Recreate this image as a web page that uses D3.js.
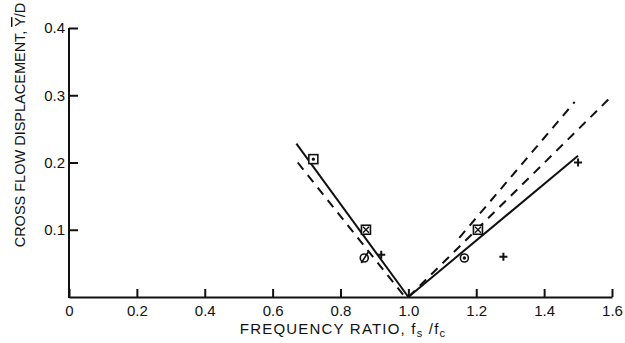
<!DOCTYPE html>
<html>
<head>
<meta charset="utf-8">
<script src="https://cdn.jsdelivr.net/npm/d3@7"></script>
<style>
  html, body { margin: 0; padding: 0; background: #fff; }
  svg { display: block; font-family: "Liberation Sans", Arial, sans-serif; }
</style>
</head>
<body>
<svg id="chart" width="625" height="343"></svg>
<script>
// Axis ticks
const xTicks = [0, 0.2, 0.4, 0.6, 0.8, 1.0, 1.2, 1.4, 1.6];
const yTicks = [0.1, 0.2, 0.3, 0.4];

// Measured points, by marker type: [frequency ratio, displacement]
const squareDot   = [[0.72, 0.205]];
const squareCross = [[0.875, 0.100], [1.205, 0.100]];
const circleDot   = [[1.165, 0.058]];
const circleSlash = [[0.87, 0.058]];
const plusPts     = [[0.92, 0.063], [1.28, 0.060], [1.50, 0.200]];

// Fitted trend lines
const solidLeft   = [[0.67, 0.228], [1.00, 0.000]];
const solidRight  = [[1.00, 0.000], [1.50, 0.210]];
const dashedLeft  = [[0.674, 0.200], [0.99, 0.000]];
const dashedUpper = [[1.15, 0.088], [1.49, 0.290]];
const dashedLower = [[1.00, 0.000], [1.59, 0.294]];

const svg = d3.select("#chart");
const x = d3.scaleLinear().domain([0, 1.6]).range([69, 612]);
const y = d3.scaleLinear().domain([0, 0.4]).range([297, 28]);

const ink = "#111";

// Axes with inward ticks
const xAxis = d3.axisBottom(x)
  .tickValues(xTicks)
  .tickSizeInner(-8).tickSizeOuter(0).tickPadding(8)
  .tickFormat(d => d === 0 ? "0" : d3.format(".1f")(d));
const yAxis = d3.axisLeft(y)
  .tickValues(yTicks)
  .tickSizeInner(-9).tickSizeOuter(0).tickPadding(4)
  .tickFormat(d3.format(".1f"));

const gx = svg.append("g").attr("transform", `translate(0,${y(0)})`).call(xAxis);
const gy = svg.append("g").attr("transform", `translate(${x(0)},0)`).call(yAxis);
[gx, gy].forEach(g => {
  g.select(".domain").attr("stroke", ink).attr("stroke-width", 2);
  g.selectAll(".tick line").attr("stroke", ink).attr("stroke-width", 2);
  g.selectAll(".tick text").attr("fill", ink).attr("font-size", 15)
    .attr("font-family", "'Liberation Sans', Arial, sans-serif");
});
gy.select(".domain").attr("d", `M0,${y(0) + 1}V${y(0.4)}`);

// Trend lines
const line = d3.line().x(d => x(d[0])).y(d => y(d[1]));
const lines = [
  { data: solidLeft, dash: null },
  { data: solidRight, dash: null },
  { data: dashedLeft, dash: "9,7" },
  { data: dashedUpper, dash: "9,7" },
  { data: dashedLower, dash: "9,7" }
];
svg.append("g").selectAll("path").data(lines).join("path")
  .attr("d", d => line(d.data))
  .attr("fill", "none")
  .attr("stroke", ink)
  .attr("stroke-width", 2)
  .attr("stroke-dasharray", d => d.dash);

// Markers
const mk = svg.append("g").attr("stroke", ink).attr("fill", "none").attr("stroke-width", 1.6);
const s = 4.5;
squareDot.forEach(([a, b]) => {
  const cx = x(a), cy = y(b);
  mk.append("rect").attr("x", cx - s).attr("y", cy - s).attr("width", 2 * s).attr("height", 2 * s).attr("fill", "#fff");
  mk.append("circle").attr("cx", cx).attr("cy", cy).attr("r", 0.9).attr("fill", ink);
});
squareCross.forEach(([a, b]) => {
  const cx = x(a), cy = y(b);
  mk.append("rect").attr("x", cx - s).attr("y", cy - s).attr("width", 2 * s).attr("height", 2 * s).attr("fill", "#fff");
  mk.append("path").attr("d", `M${cx - s + 1.5},${cy - s + 1.5}L${cx + s - 1.5},${cy + s - 1.5}M${cx + s - 1.5},${cy - s + 1.5}L${cx - s + 1.5},${cy + s - 1.5}`).attr("stroke-width", 1.3);
});
circleDot.forEach(([a, b]) => {
  const cx = x(a), cy = y(b);
  mk.append("circle").attr("cx", cx).attr("cy", cy).attr("r", 4).attr("fill", "#fff");
  mk.append("circle").attr("cx", cx).attr("cy", cy).attr("r", 0.9).attr("fill", ink);
});
circleSlash.forEach(([a, b]) => {
  const cx = x(a), cy = y(b);
  mk.append("circle").attr("cx", cx).attr("cy", cy).attr("r", 4);
  mk.append("path").attr("d", `M${cx - 3},${cy + 5}L${cx + 4},${cy - 6}`);
});
plusPts.forEach(([a, b]) => {
  const cx = x(a), cy = y(b);
  mk.append("path").attr("d", `M${cx - 4},${cy}H${cx + 4}M${cx},${cy - 4}V${cy + 4}`).attr("stroke-width", 2);
});

// Axis titles
const xt = svg.append("text")
  .attr("x", 343).attr("y", 334)
  .attr("text-anchor", "middle")
  .attr("font-size", 15).attr("letter-spacing", 1.2).attr("fill", ink);
xt.append("tspan").text("FREQUENCY RATIO, f");
xt.append("tspan").attr("dy", 3).attr("font-size", 11).text("s");
xt.append("tspan").attr("dy", -3).text(" /f");
xt.append("tspan").attr("dy", 3).attr("font-size", 11).text("c");

const yt = svg.append("text")
  .attr("transform", "translate(25,125) rotate(-90)")
  .attr("text-anchor", "middle")
  .attr("font-size", 14.5).attr("fill", ink);
yt.append("tspan").text("CROSS FLOW DISPLACEMENT, ");
yt.append("tspan").attr("text-decoration", "overline").style("text-decoration", "overline").text("Y");
yt.append("tspan").text("/D");
</script>
</body>
</html>
